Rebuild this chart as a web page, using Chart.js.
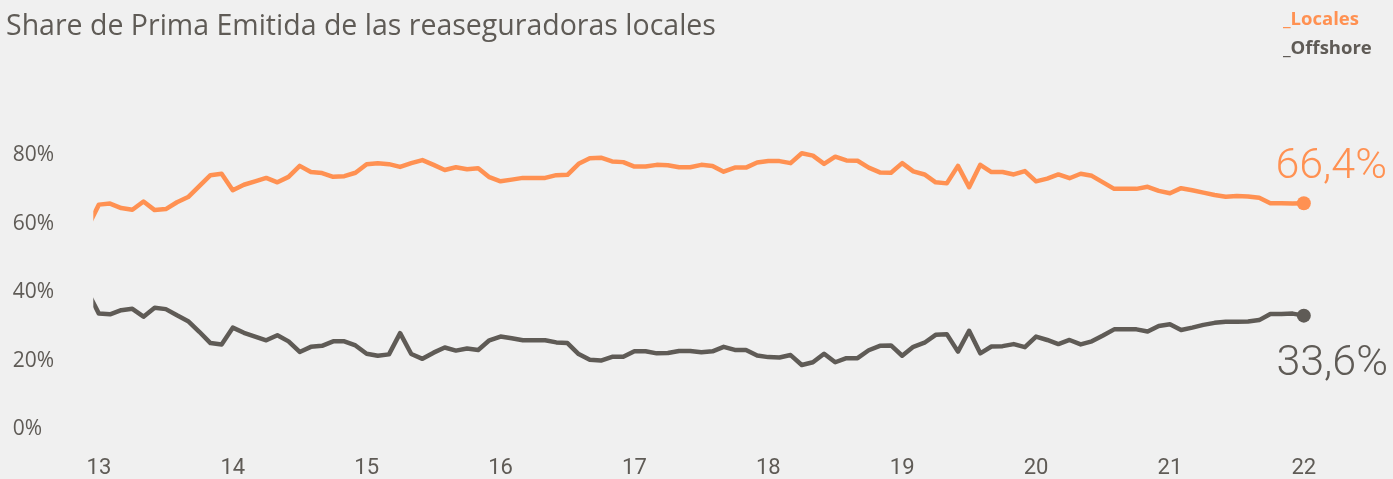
<!DOCTYPE html>
<html>
<head>
<meta charset="utf-8">
<script src="https://cdn.jsdelivr.net/npm/chart.js@4/dist/chart.umd.min.js"></script>
<style>
  html, body { margin: 0; padding: 0; background: #f0f0f0; }
  #wrap { width: 1393px; height: 479px; position: relative; }
  canvas { display: block; }
</style>
</head>
<body>
<div id="wrap"><canvas id="c" width="1393" height="479"></canvas></div>
<script>
// ---- data (monthly, Dec 2012 .. Jan 2022; month index 0 = Jan 2013) ----
const titleText = 'Share de Prima Emitida de las reaseguradoras locales';
const seriesNames = ['_Locales', '_Offshore'];
const firstMonthIndex = -1;
const xTickLabels = ['13', '14', '15', '16', '17', '18', '19', '20', '21', '22'];
const yTickValues = [0, 20, 40, 60, 80];
const endLabels = ['66,4%', '33,6%'];

const locales = [
  59.5,
  66.0, 66.3, 65.0, 64.5, 66.9, 64.4, 64.7, 66.7, 68.2, 71.4, 74.6, 75.0,
  70.2, 71.8, 72.8, 73.8, 72.5, 74.1, 77.3, 75.5, 75.2, 74.1, 74.3, 75.3,
  77.8, 78.1, 77.8, 77.0, 78.1, 79.0, 77.6, 76.1, 76.9, 76.3, 76.6, 74.0,
  72.8, 73.3, 73.8, 73.8, 73.8, 74.6, 74.7, 77.9, 79.5, 79.7, 78.6, 78.4,
  77.1, 77.1, 77.6, 77.5, 76.9, 76.9, 77.6, 77.3, 75.6, 76.8, 76.8, 78.3,
  78.7, 78.7, 78.1, 81.0, 80.3, 77.9, 80.0, 78.9, 78.8, 76.8, 75.4, 75.3,
  78.1, 75.7, 74.8, 72.5, 72.2, 77.3, 71.1, 77.6, 75.5, 75.5, 74.8, 75.8,
  72.8, 73.6, 74.8, 73.7, 75.0, 74.4, 72.5, 70.6, 70.6, 70.6, 71.2, 70.0,
  69.3, 70.8, 70.2, 69.5, 68.8, 68.3, 68.5, 68.4, 68.0, 66.4, 66.4, 66.3,
  66.4
];
const offshore = [
  40.5,
  34.2, 34.0, 35.2, 35.6, 33.3, 35.9, 35.5, 33.7, 32.0, 28.9, 25.6, 25.2,
  30.1, 28.6, 27.5, 26.4, 27.9, 26.1, 23.0, 24.5, 24.8, 26.1, 26.1, 24.9,
  22.5, 21.9, 22.3, 28.5, 22.4, 21.0, 22.8, 24.3, 23.4, 24.0, 23.6, 26.4,
  27.5, 27.0, 26.4, 26.4, 26.4, 25.8, 25.6, 22.4, 20.7, 20.5, 21.6, 21.6,
  23.2, 23.2, 22.6, 22.7, 23.3, 23.3, 22.9, 23.2, 24.5, 23.6, 23.6, 22.0,
  21.5, 21.4, 22.1, 19.2, 20.0, 22.5, 20.0, 21.2, 21.2, 23.5, 24.8, 24.9,
  21.9, 24.5, 25.7, 28.0, 28.2, 23.1, 29.2, 22.6, 24.6, 24.7, 25.3, 24.4,
  27.5, 26.5, 25.3, 26.5, 25.2, 26.1, 27.8, 29.6, 29.6, 29.6, 29.0, 30.6,
  31.1, 29.4, 30.1, 30.9, 31.5, 31.8, 31.8, 31.9, 32.3, 34.1, 34.1, 34.2,
  33.6
];

// ---- styles ----
const ORANGE = '#ff9152';
const GREY = '#5f5b56';
const TEXT = '#5f5b56';
const FONT = 'Roboto, "Open Sans", sans-serif';
const FONT2 = '"Open Sans", Roboto, sans-serif';

const toPoints = arr => arr.map((v, i) => ({ x: i + firstMonthIndex, y: v }));
const lastIdx = locales.length - 1;

const overlay = {
  id: 'overlay',
  beforeDraw(chart) {
    const ctx = chart.ctx;
    ctx.save();
    ctx.fillStyle = '#f0f0f0';
    ctx.fillRect(0, 0, chart.width, chart.height);
    ctx.restore();
  },
  afterDraw(chart) {
    const ctx = chart.ctx;
    ctx.save();
    // title
    ctx.fillStyle = TEXT;
    ctx.textAlign = 'left';
    ctx.textBaseline = 'alphabetic';
    ctx.font = '400 28.5px ' + FONT2;
    ctx.fillText(titleText, 6, 34.5);
    // legend
    ctx.font = '700 18.5px ' + FONT2;
    ctx.fillStyle = ORANGE;
    ctx.fillText(seriesNames[0], 1283, 25);
    ctx.fillStyle = GREY;
    ctx.fillText(seriesNames[1], 1283, 53.5);
    // end labels
    const ys = chart.scales.y;
    ctx.textAlign = 'right';
    ctx.font = '300 43px ' + FONT;
    ctx.fillStyle = ORANGE;
    ctx.fillText(endLabels[0], 1387, ys.getPixelForValue(locales[lastIdx]) - 25.5);
    ctx.fillStyle = GREY;
    ctx.fillText(endLabels[1], 1388, ys.getPixelForValue(offshore[lastIdx]) + 59);
    ctx.restore();
  }
};

const pointR = r => ctx => (ctx.dataIndex === lastIdx ? r : 0);

new Chart(document.getElementById('c'), {
  type: 'line',
  data: {
    datasets: [
      {
        label: seriesNames[0],
        data: toPoints(locales),
        borderColor: ORANGE,
        backgroundColor: ORANGE,
        borderWidth: 4.5,
        borderJoinStyle: 'round',
        tension: 0,
        pointRadius: pointR(7),
        pointHoverRadius: pointR(7),
        pointBorderWidth: 0,
        clip: { left: 0, top: false, right: false, bottom: false }
      },
      {
        label: seriesNames[1],
        data: toPoints(offshore),
        borderColor: GREY,
        backgroundColor: GREY,
        borderWidth: 4.5,
        borderJoinStyle: 'round',
        tension: 0,
        pointRadius: pointR(7),
        pointHoverRadius: pointR(7),
        pointBorderWidth: 0,
        clip: { left: 0, top: false, right: false, bottom: false }
      }
    ]
  },
  options: {
    responsive: false,
    animation: false,
    events: [],
    layout: { padding: { left: 12.7, top: 88.1, right: 83.6, bottom: 0 } },
    plugins: { legend: { display: false }, tooltip: { enabled: false }, title: { display: false } },
    scales: {
      x: {
        type: 'linear',
        min: -0.5,
        max: 108.5,
        grid: { display: false, drawTicks: false },
        border: { display: false },
        afterFit: s => { s.height = 48.2; },
        afterBuildTicks: s => { s.ticks = xTickLabels.map((t, i) => ({ value: i * 12 })); },
        ticks: {
          autoSkip: false,
          maxRotation: 0,
          padding: 24,
          color: TEXT,
          font: { family: FONT, size: 22 },
          callback: (v, i) => xTickLabels[i]
        }
      },
      y: {
        type: 'linear',
        min: 0,
        max: 100,
        grid: { display: false, drawTicks: false },
        border: { display: false },
        afterFit: s => { s.width = 80.6; },
        afterBuildTicks: s => { s.ticks = yTickValues.map(v => ({ value: v })); },
        ticks: {
          crossAlign: 'far',
          labelOffset: -1.5,
          color: TEXT,
          font: { family: FONT2, size: 21 },
          callback: v => v + '%'
        }
      }
    }
  },
  plugins: [overlay]
});
</script>
</body>
</html>
